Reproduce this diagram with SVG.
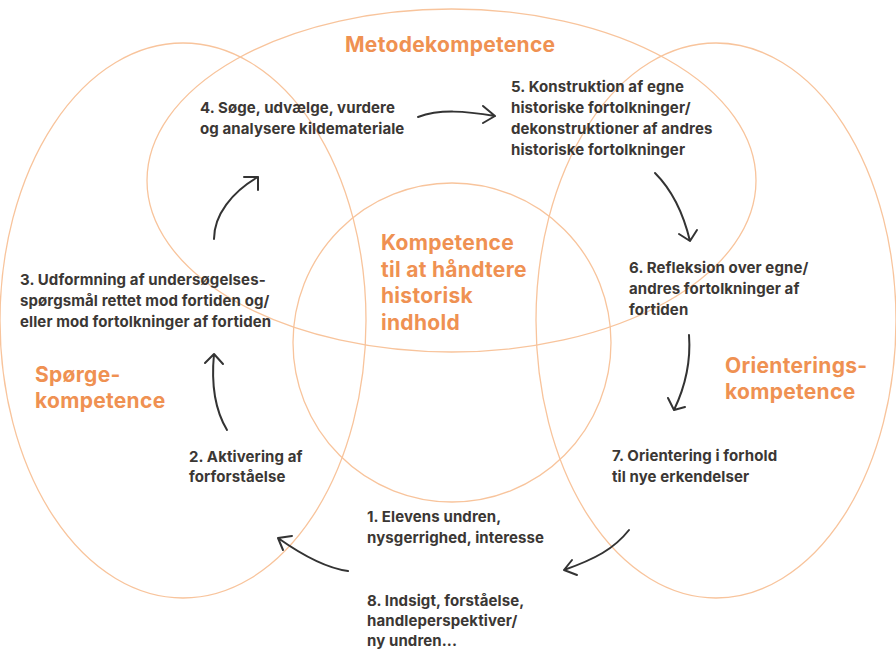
<svg xmlns="http://www.w3.org/2000/svg" width="896" height="650" viewBox="0 0 896 650">
<defs>
<style>
.ring{fill:none;stroke:#f8c49c;stroke-width:1.3}
.t{font-family:Inter,"Liberation Sans",sans-serif;font-weight:700;font-size:15px;letter-spacing:0.1px;fill:#3b3734}
.h{font-family:Inter,"Liberation Sans",sans-serif;font-weight:700;font-size:21px;letter-spacing:0.3px;fill:#ef9152}
.c{fill:none;stroke:#333;stroke-width:2;stroke-linecap:round;stroke-linejoin:round}
</style>
</defs>
<rect width="896" height="650" fill="#fff"/>
<g id="rings">
<ellipse id="sporge-ring" class="ring" cx="183" cy="320.5" rx="183" ry="277.5"/>
<ellipse id="metode-ring" class="ring" cx="451.5" cy="180.5" rx="304.5" ry="171.5"/>
<ellipse id="center-ring" class="ring" cx="452" cy="342.5" rx="159" ry="159.5"/>
<ellipse id="orient-ring" class="ring" cx="716" cy="320.5" rx="180" ry="277.5"/>
</g>
<g id="labels">
<text class="h" x="345" y="52">Metodekompetence</text>
<g id="center-label"><text class="h" x="381" y="250">Kompetence</text><text class="h" x="381" y="276.5">til at håndtere</text><text class="h" x="381" y="303">historisk</text><text class="h" x="381" y="329.5">indhold</text></g>
<g id="sporge-label"><text class="h" x="35" y="382">Spørge-</text><text class="h" x="35" y="408">kompetence</text></g>
<g id="orient-label"><text class="h" x="725" y="373">Orienterings-</text><text class="h" x="725" y="399">kompetence</text></g>
</g>
<g id="n1"><text class="t" x="367" y="522">1. Elevens undren,</text><text class="t" x="367" y="543">nysgerrighed, interesse</text></g>
<g id="n2"><text class="t" x="189" y="462">2. Aktivering af</text><text class="t" x="189" y="482">forforståelse</text></g>
<g id="n3"><text class="t" x="20" y="285">3. Udformning af undersøgelses-</text><text class="t" x="20" y="306">spørgsmål rettet mod fortiden og/</text><text class="t" x="20" y="327">eller mod fortolkninger af fortiden</text></g>
<g id="n4"><text class="t" x="200" y="113">4. Søge, udvælge, vurdere</text><text class="t" x="200" y="134">og analysere kildemateriale</text></g>
<g id="n5"><text class="t" x="511" y="92">5. Konstruktion af egne</text><text class="t" x="511" y="113">historiske fortolkninger/</text><text class="t" x="511" y="134">dekonstruktioner af andres</text><text class="t" x="511" y="155">historiske fortolkninger</text></g>
<g id="n6"><text class="t" x="629" y="273">6. Refleksion over egne/</text><text class="t" x="629" y="294">andres fortolkninger af</text><text class="t" x="629" y="315">fortiden</text></g>
<g id="n7"><text class="t" x="612" y="461">7. Orientering i forhold</text><text class="t" x="612" y="482">til nye erkendelser</text></g>
<g id="n8"><text class="t" x="367" y="606">8. Indsigt, forståelse,</text><text class="t" x="367" y="626">handleperspektiver/</text><text class="t" x="367" y="645.5">ny undren...</text></g>
<g id="connectors">
<path class="c" d="M214 239 C214 215 232 192 258 177 M244 177 L258 177 L258 190"/>
<path class="c" d="M227 430 C215 410 211 385 214 354 M205 363 L214 354 L223 364"/>
<path class="c" d="M418 117 C440 109 465 111 495 116 M483 106 L495 116 L483 123"/>
<path class="c" d="M655 173 C672 190 683 212 690 241 M679 234 L690 241 L697 230"/>
<path class="c" d="M689 335 C691 362 686 385 674 410 M668 398 L674 410 L685 407"/>
<path class="c" d="M629 530 C614 549 595 559 564 570 M572 560 L564 570 L577 575"/>
<path class="c" d="M348 571 C325 568 302 555 278 538 M292 536 L278 538 L283 550"/>
</g>
</svg>
